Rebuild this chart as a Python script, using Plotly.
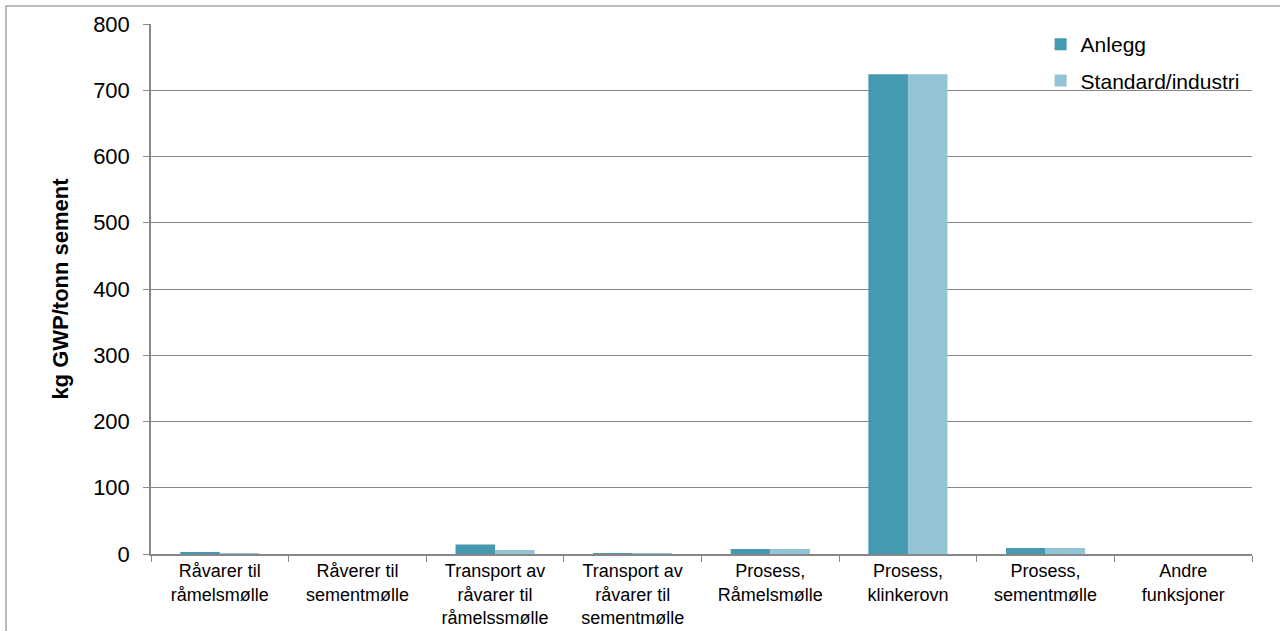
import plotly.graph_objects as go

categories = [
    "Råvarer til<br>råmelsmølle",
    "Råverer til<br>sementmølle",
    "Transport av<br>råvarer til<br>råmelssmølle",
    "Transport av<br>råvarer til<br>sementmølle",
    "Prosess,<br>Råmelsmølle",
    "Prosess,<br>klinkerovn",
    "Prosess,<br>sementmølle",
    "Andre<br>funksjoner",
]
anlegg = [2.0, 0.0, 14.5, 1.5, 7.5, 724.0, 9.0, 0.0]
standard = [1.5, 0.0, 6.0, 1.5, 7.5, 724.0, 9.0, 0.0]
y_ticks = [0, 100, 200, 300, 400, 500, 600, 700, 800]

fig = go.Figure()
fig.add_trace(go.Bar(name="Anlegg", x=categories, y=anlegg, legendgroup="a",
                     marker=dict(color="#4599B0", line=dict(width=0))))
fig.add_trace(go.Bar(name="Standard/industri", x=categories, y=standard,
                     legendgroup="b",
                     marker=dict(color="#93C4D6", line=dict(width=0))))

# outer chart frame
fig.add_shape(type="rect", xref="paper", yref="paper",
              x0=-0.1317, x1=1.05, y0=-0.3, y1=1.034,
              line=dict(color="#A6A6A6", width=1.5), layer="below")

fig.update_layout(
    width=1280, height=631,
    margin=dict(l=151, r=28, t=24, b=77, autoexpand=False),
    paper_bgcolor="white", plot_bgcolor="white",
    barmode="group", bargap=0.425, bargroupgap=0,
    font=dict(family="Liberation Sans, Arial, sans-serif", color="#000000"),
    legend=dict(x=0.808, y=1.0, xanchor="left", yanchor="top",
                font=dict(size=21), itemwidth=30, tracegroupgap=6,
                bgcolor="rgba(0,0,0,0)"),
    xaxis=dict(tickson="boundaries", ticks="outside", ticklen=6,
               tickcolor="#878787", showline=True, linecolor="#878787",
               linewidth=1.5, showgrid=False, tickfont=dict(size=18),
               tickangle=0, ticklabelstandoff=0, automargin=False),
    yaxis=dict(range=[0, 800], tickvals=y_ticks, ticks="outside", ticklen=6,
               tickcolor="#878787", showline=True, linecolor="#878787",
               linewidth=1.5, showgrid=True, gridcolor="#878787", gridwidth=1,
               zeroline=False, tickfont=dict(size=22), ticklabelstandoff=9,
               automargin=False,
               title=dict(text="<b>kg GWP/tonn sement</b>",
                          font=dict(size=22), standoff=18)),
)

fig.write_html("out.html")
